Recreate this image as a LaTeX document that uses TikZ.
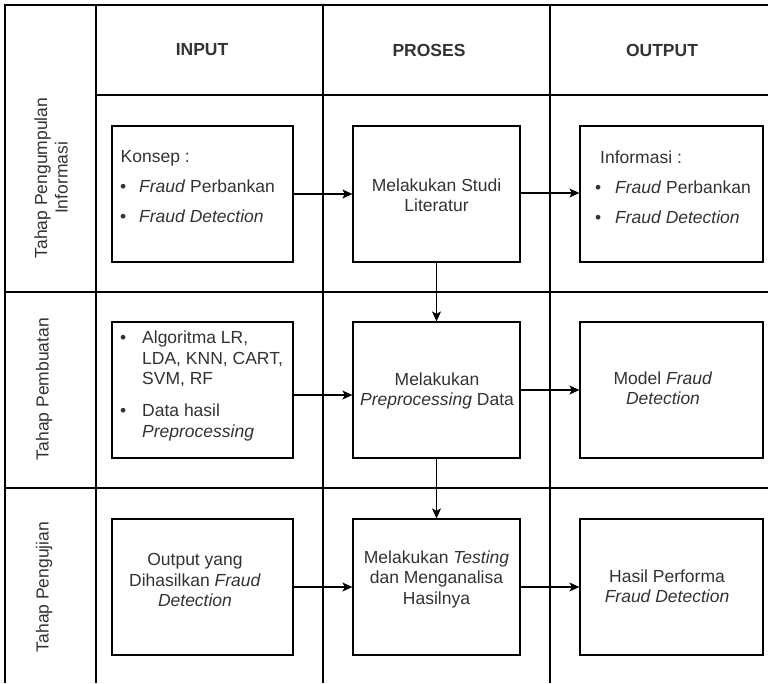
\documentclass[tikz,border=0pt]{standalone}
\usepackage{fontspec}
\setmainfont{Liberation Sans}
\usetikzlibrary{arrows.meta}
\definecolor{txtc}{HTML}{333333}
\begin{document}
\begin{tikzpicture}[x=1pt,y=-1pt,
  gridline/.style={line width=1.4pt, black},
  boxin/.style={draw, line width=1.2pt, minimum width=181pt, minimum height=136pt, inner sep=0pt},
  boxpr/.style={draw, line width=1.2pt, minimum width=167pt, minimum height=136pt, inner sep=0pt},
  boxout/.style={draw, line width=1.2pt, minimum width=183pt, minimum height=136pt, inner sep=0pt},
  txt/.style={font=\fontsize{17.5}{20.5}\selectfont, text=txtc, inner sep=0pt, align=center},
  hdr/.style={font=\fontsize{17.5}{20.5}\selectfont\bfseries, text=txtc, inner sep=0pt},
  arr/.style={line width=1.2pt, -{Stealth[length=10pt,width=9pt,inset=2.5pt]}}
]
\fill[white] (0,0) rectangle (768,683);
\useasboundingbox (0,0) rectangle (768,683);

% table grid
\draw[gridline] (5,683) -- (5,5) -- (768,5);
\draw[gridline] (96,5) -- (96,683);
\draw[gridline] (323,5) -- (323,683);
\draw[gridline] (550,5) -- (550,683);
\draw[gridline] (96,95) -- (768,95);
\draw[gridline] (5,292) -- (768,292);
\draw[gridline] (5,488) -- (768,488);

% headers
\node[hdr] (hin) at (202,50) {INPUT};
\node[hdr] (hpr) at (429,50) {PROSES};
\node[hdr] (hout) at (662,50) {OUTPUT};

% row labels
\node[txt, rotate=90] (l1) at (51,178) {Tahap Pengumpulan\\Informasi};
\node[txt, rotate=90] (l2) at (44,389) {Tahap Pembuatan};
\node[txt, rotate=90] (l3) at (44,587) {Tahap Pengujian};

% boxes
\node[boxin] (in1) at (202.5,194) {};
\node[boxpr] (pr1) at (436.5,194) {};
\node[boxout] (out1) at (671.5,194) {};
\node[boxin] (in2) at (202.5,390) {};
\node[boxpr] (pr2) at (436.5,390) {};
\node[boxout] (out2) at (671.5,390) {};
\node[boxin] (in3) at (202.5,587) {};
\node[boxpr] (pr3) at (436.5,587) {};
\node[boxout] (out3) at (671.5,587) {};

% texts
\node[txt, anchor=west, align=left] (tin1) at (120,187)
  {\hspace*{0.5pt}Konsep :\\[9.5pt]\makebox[19pt][l]{•}\textit{Fraud} Perbankan\\[9.5pt]\makebox[19pt][l]{•}\textit{Fraud Detection}};
\node[txt] (tpr1) at (436.5,195) {Melakukan Studi\\Literatur};
\node[txt, anchor=west, align=left] (tout1) at (595,187)
  {\hspace*{5pt}Informasi :\\[9.5pt]\makebox[20pt][l]{•}\textit{Fraud} Perbankan\\[9.5pt]\makebox[20pt][l]{•}\textit{Fraud Detection}};

\node[txt, anchor=west, align=left] (tin2) at (120,386)
  {\makebox[22pt][l]{•}Algoritma LR,\\\hspace*{22pt}LDA, KNN, CART,\\\hspace*{22pt}SVM, RF\\[11.5pt]\makebox[22pt][l]{•}Data hasil\\\hspace*{22pt}\textit{Preprocessing}};
\node[txt] (tpr2) at (437,391) {Melakukan\\\textit{Preprocessing} Data};
\node[txt] (tout2) at (663,388) {Model \textit{Fraud}\\\textit{Detection}};

\node[txt] (tin3) at (195,580) {Output yang\\Dihasilkan \textit{Fraud}\\\textit{Detection}};
\node[txt] (tpr3) at (436.5,579) {Melakukan \textit{Testing}\\dan Menganalisa\\Hasilnya};
\node[txt] (tout3) at (667,586) {Hasil Performa\\\textit{Fraud Detection}};

% connectors
\draw[arr] (in1.east) -- (pr1.west);
\draw[arr] ([yshift=1pt]pr1.east) -- ([yshift=1pt]out1.west);
\draw[arr] (pr1.south) -- (pr2.north);
\draw[arr] ([yshift=-5pt]in2.east) -- ([yshift=-5pt]pr2.west);
\draw[arr] (pr2.east) -- (out2.west);
\draw[arr] (pr2.south) -- (pr3.north);
\draw[arr] (in3.east) -- (pr3.west);
\draw[arr] (pr3.east) -- (out3.west);
\end{tikzpicture}
\end{document}
